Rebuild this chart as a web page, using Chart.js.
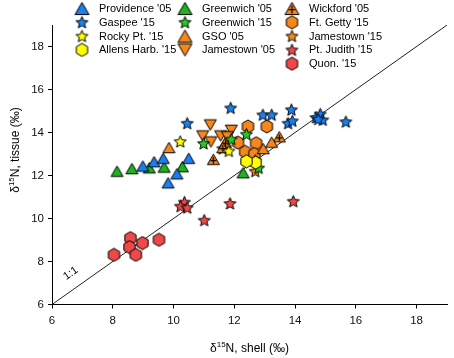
<!DOCTYPE html>
<html>
<head>
<meta charset="utf-8">
<script src="https://cdn.jsdelivr.net/npm/chart.js@4.4.1/dist/chart.umd.min.js"></script>
<style>
  body { margin: 0; background: #fff; }
  canvas { display: block; }
</style>
</head>
<body>
<canvas id="chart" width="454" height="358"></canvas>
<script>
// Tick labels
const xTicks = [6, 8, 10, 12, 14, 16, 18];
const yTicks = [6, 8, 10, 12, 14, 16, 18];

// Series values, [shell, tissue]
const providence05 = [[8.99, 12.44], [9.36, 12.64], [9.66, 12.8], [10.5, 12.8], [10.11, 12.08], [9.82, 11.66]];
const gaspee15 = [[11.88, 15.14], [12.94, 14.82], [13.23, 14.82], [10.45, 14.43], [13.88, 15.06], [13.77, 14.43],
                  [13.91, 14.54], [14.69, 14.7], [14.83, 14.86], [14.91, 14.59], [14.76, 14.62], [15.67, 14.5]];
const rockyPt15 = [[10.22, 13.58], [11.82, 13.14]];
const allensHarb15 = [[12.7, 12.6], [12.4, 12.66]];
const greenwich05 = [[8.14, 12.2], [8.63, 12.32], [9.2, 12.36], [9.69, 12.39], [10.29, 12.41], [12.29, 12.13]];
const greenwich15 = [[10.99, 13.49], [11.9, 13.69], [12.4, 13.92], [12.69, 12.7], [12.8, 12.35]];
const gso05 = [[9.85, 13.3], [13.23, 13.55], [12.95, 13.25]];
const jamestown05 = [[11.21, 14.35], [10.96, 13.84], [11.23, 13.56], [11.55, 13.84], [11.9, 14.1], [11.77, 13.8]];
const wickford05 = [[11.71, 13.55], [11.62, 13.3], [11.31, 12.75], [13.48, 13.8]];
const ftGetty15 = [[12.45, 14.28], [13.07, 14.28], [12.12, 13.53], [12.72, 13.5], [12.36, 13.1], [12.66, 13.0]];
const jamestown15 = [[12.69, 12.2], [11.62, 13.25]];
const ptJudith15 = [[10.36, 10.76], [10.23, 10.57], [10.45, 10.5], [11.86, 10.7], [11.01, 9.92], [13.94, 10.8]];
const quon15 = [[8.04, 8.31], [8.58, 9.09], [8.55, 8.67], [8.76, 8.31], [8.98, 8.86], [9.52, 9.01]];

const BLUE = '#1a80f0', GREEN = '#1db31d', GREEN2 = '#22cc22', YELLOW = '#ffff00', ORANGE = '#f7871a', RED = '#f04848';
const FONT = "'Liberation Sans', Arial, sans-serif";

// Marker images
function marker(shape, fill, s) {
    const c = document.createElement('canvas');
    const n = Math.ceil(s + 3);
    c.width = n; c.height = n;
    const g = c.getContext('2d');
    const m = n / 2, hw = s / 2, h = s * 0.87;
    g.beginPath();
    if (shape === 'tri' || shape === 'triPlus') {
        g.moveTo(m, m - h / 2); g.lineTo(m + hw, m + h / 2); g.lineTo(m - hw, m + h / 2);
    } else if (shape === 'triDown') {
        g.moveTo(m - hw, m - h / 2); g.lineTo(m + hw, m - h / 2); g.lineTo(m, m + h / 2);
    } else if (shape === 'star') {
        const ro = s / 2 + 0.3, ri = ro * 0.45;
        for (let i = 0; i < 10; i++) {
            const a = -Math.PI / 2 + i * Math.PI / 5, r = i % 2 ? ri : ro;
            g.lineTo(m + r * Math.cos(a), m + 0.5 + r * Math.sin(a));
        }
    } else if (shape === 'hex') {
        const R = s / 2 + 0.5;
        for (let i = 0; i < 6; i++) {
            const a = -Math.PI / 2 + i * Math.PI / 3;
            g.lineTo(m + R * Math.cos(a), m + R * Math.sin(a));
        }
    }
    g.closePath();
    g.fillStyle = fill; g.fill();
    g.lineWidth = 1; g.strokeStyle = '#000'; g.stroke();
    if (shape === 'triPlus') {
        g.beginPath();
        g.lineWidth = 1.3;
        g.moveTo(m, m - h / 2 + 3); g.lineTo(m, m + h / 2 - 1);
        g.moveTo(m - 3, m + 1.2); g.lineTo(m + 3, m + 1.2);
        g.stroke();
    }
    return c;
}

const series = [
    { label: "Providence '05", data: providence05, shape: 'tri', color: BLUE, col: 0, row: 0 },
    { label: "Gaspee '15", data: gaspee15, shape: 'star', color: BLUE, col: 0, row: 1 },
    { label: "Rocky Pt. '15", data: rockyPt15, shape: 'star', color: YELLOW, col: 0, row: 2 },
    { label: "Allens Harb. '15", data: allensHarb15, shape: 'hex', color: YELLOW, col: 0, row: 3 },
    { label: "Greenwich '05", data: greenwich05, shape: 'tri', color: GREEN, col: 1, row: 0 },
    { label: "Greenwich '15", data: greenwich15, shape: 'star', color: GREEN2, col: 1, row: 1 },
    { label: "GSO '05", data: gso05, shape: 'tri', color: ORANGE, col: 1, row: 2 },
    { label: "Jamestown '05", data: jamestown05, shape: 'triDown', color: ORANGE, col: 1, row: 3 },
    { label: "Wickford '05", data: wickford05, shape: 'triPlus', color: ORANGE, col: 2, row: 0 },
    { label: "Ft. Getty '15", data: ftGetty15, shape: 'hex', color: ORANGE, col: 2, row: 1 },
    { label: "Jamestown '15", data: jamestown15, shape: 'star', color: ORANGE, col: 2, row: 2 },
    { label: "Pt. Judith '15", data: ptJudith15, shape: 'star', color: RED, col: 2, row: 3 },
    { label: "Quon. '15", data: quon15, shape: 'hex', color: RED, col: 2, row: 4 }
];

const dataSize = { tri: 12, triPlus: 12, triDown: 12, star: 12, hex: 12 };
const legendSize = { tri: 14, triPlus: 14, triDown: 14, star: 12, hex: 12 };

const datasets = series.map(s => ({
    label: s.label,
    data: s.data.map(p => ({ x: p[0], y: p[1] })),
    pointStyle: marker(s.shape, s.color, dataSize[s.shape]),
    pointRadius: 6,
    order: 0
}));

// 1:1 line
datasets.push({
    type: 'line',
    label: '1:1',
    data: [{ x: 6, y: 6 }, { x: 19, y: 19 }],
    borderColor: '#222',
    borderWidth: 1,
    pointRadius: 0,
    fill: false,
    order: 1
});

const legendCols = [82, 185, 292];
const textCols = [99, 202, 309];

const extras = {
    id: 'extras',
    afterDraw(chart) {
        const ctx = chart.ctx;
        const xs = chart.scales.x, ys = chart.scales.y;
        ctx.save();
        ctx.fillStyle = '#000';
        ctx.textBaseline = 'middle';
        ctx.textAlign = 'left';
        ctx.font = '11px ' + FONT;
        series.forEach(s => {
            const y = 8.5 + s.row * 13.8;
            const img = marker(s.shape, s.color, legendSize[s.shape]);
            ctx.drawImage(img, legendCols[s.col] - img.width / 2, y - img.height / 2);
            ctx.fillText(s.label, textCols[s.col], y + 0.5);
        });

        // 1:1 label along the line
        ctx.save();
        ctx.translate(xs.getPixelForValue(6.62), ys.getPixelForValue(7.45));
        ctx.rotate(-Math.atan2(ys.getPixelForValue(6) - ys.getPixelForValue(7), xs.getPixelForValue(7) - xs.getPixelForValue(6)));
        ctx.textAlign = 'center';
        ctx.font = '11px ' + FONT;
        ctx.fillText('1:1', 0, 0);
        ctx.restore();

        // axis titles with superscript 15
        function title(x, y, rot, rest) {
            ctx.save();
            ctx.translate(x, y);
            ctx.rotate(rot);
            ctx.font = '12px ' + FONT;
            const wD = ctx.measureText('\u03b4').width;
            const wR = ctx.measureText(rest).width;
            ctx.font = '8px ' + FONT;
            const wS = ctx.measureText('15').width;
            let cx = -(wD + wS + wR) / 2;
            ctx.textAlign = 'left';
            ctx.font = '12px ' + FONT;
            ctx.fillText('\u03b4', cx, 0);
            cx += wD;
            ctx.font = '8px ' + FONT;
            ctx.fillText('15', cx, -4);
            cx += wS;
            ctx.font = '12px ' + FONT;
            ctx.fillText(rest, cx, 0);
            ctx.restore();
        }
        title((chart.chartArea.left + chart.chartArea.right) / 2, 349, 0, 'N, shell (\u2030)');
        title(16, 150, -Math.PI / 2, 'N, tissue (\u2030)');
        ctx.restore();
    }
};

function axis(ticks, isX) {
    return {
        type: 'linear',
        min: 6,
        max: 19,
        grid: { drawOnChartArea: false, drawTicks: true, tickLength: 4, tickColor: '#000', tickWidth: 1 },
        border: { display: true, color: '#000', width: 1 },
        ticks: { font: { family: FONT, size: 11.5 }, color: '#111', padding: isX ? 5 : 4, maxRotation: 0 },
        afterBuildTicks: s => { s.ticks = ticks.map(v => ({ value: v })); },
        afterFit: s => { if (isX) s.height = 53.5; else s.width = 52; }
    };
}

new Chart(document.getElementById('chart'), {
    type: 'scatter',
    data: { datasets },
    options: {
        responsive: false,
        animation: false,
        layout: { padding: { top: 25, right: 2, left: 0, bottom: 0 } },
        scales: { x: axis(xTicks, true), y: axis(yTicks, false) },
        plugins: { legend: { display: false }, tooltip: { enabled: false } }
    },
    plugins: [extras]
});
</script>
</body>
</html>
